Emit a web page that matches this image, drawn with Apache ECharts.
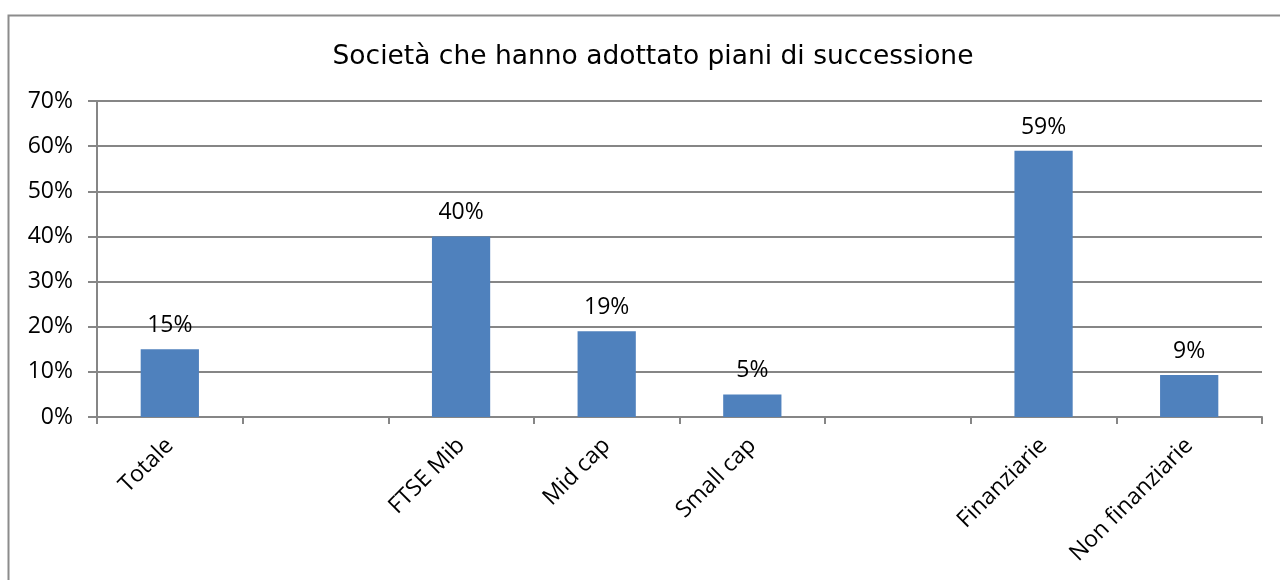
<!DOCTYPE html>
<html>
<head>
<meta charset="utf-8">
<script src="https://cdn.jsdelivr.net/npm/echarts@6/dist/echarts.min.js"></script>
<style>
  html, body { margin: 0; padding: 0; background: #fff; }
  #chart { width: 1280px; height: 580px; }
</style>
</head>
<body>
<div id="chart"></div>
<script>
// categories (blank slots are the gaps between groups)
const categories = ['Totale', '', 'FTSE Mib', 'Mid cap', 'Small cap', '', 'Finanziarie', 'Non finanziarie'];
const values = [15, null, 40, 19, 5, null, 59, 9.3];
const yTicks = [0, 10, 20, 30, 40, 50, 60, 70];

const chart = echarts.init(document.getElementById('chart'));

const labelFont = '"Open Sans", "Liberation Sans", sans-serif';

chart.setOption({
    animation: false,
    backgroundColor: '#fff',
    title: {
        text: 'Società che hanno adottato piani di successione',
        left: 648,
        top: 39,
        textAlign: 'center',
        textStyle: {
            fontFamily: '"DejaVu Sans", Verdana, sans-serif',
            fontSize: 26.5,
            fontWeight: 'normal',
            color: '#000'
        }
    },
    graphic: [{
        type: 'rect',
        shape: { x: 8.5, y: 15.5, width: 1300, height: 600 },
        style: { fill: 'none', stroke: '#8c8c8c', lineWidth: 2 },
        silent: true
    }],
    grid: { left: 97, right: 18, top: 101, bottom: 163 },
    xAxis: {
        type: 'category',
        data: categories,
        axisLine: { lineStyle: { color: '#868686', width: 2 } },
        axisTick: { show: true, length: 7, lineStyle: { color: '#868686', width: 2 } },
        axisLabel: {
            rotate: 45,
            interval: 0,
            margin: 25,
            fontFamily: labelFont,
            fontSize: 23,
            color: '#000'
        }
    },
    yAxis: {
        type: 'value',
        min: yTicks[0],
        max: yTicks[yTicks.length - 1],
        interval: 10,
        axisLine: { show: true, lineStyle: { color: '#868686', width: 2 } },
        axisTick: { show: true, length: 9, lineStyle: { color: '#868686', width: 2 } },
        splitLine: { lineStyle: { color: '#868686', width: 2 } },
        axisLabel: {
            formatter: v => v + '%',
            margin: 24,
            fontFamily: labelFont,
            fontSize: 23,
            color: '#000'
        }
    },
    series: [{
        type: 'bar',
        data: values,
        barWidth: '40%',
        itemStyle: { color: '#4f81bd' },
        label: {
            show: true,
            position: 'top',
            distance: 12,
            formatter: p => Math.round(p.value) + '%',
            fontFamily: labelFont,
            fontSize: 23,
            color: '#000'
        }
    }]
});
</script>
</body>
</html>
